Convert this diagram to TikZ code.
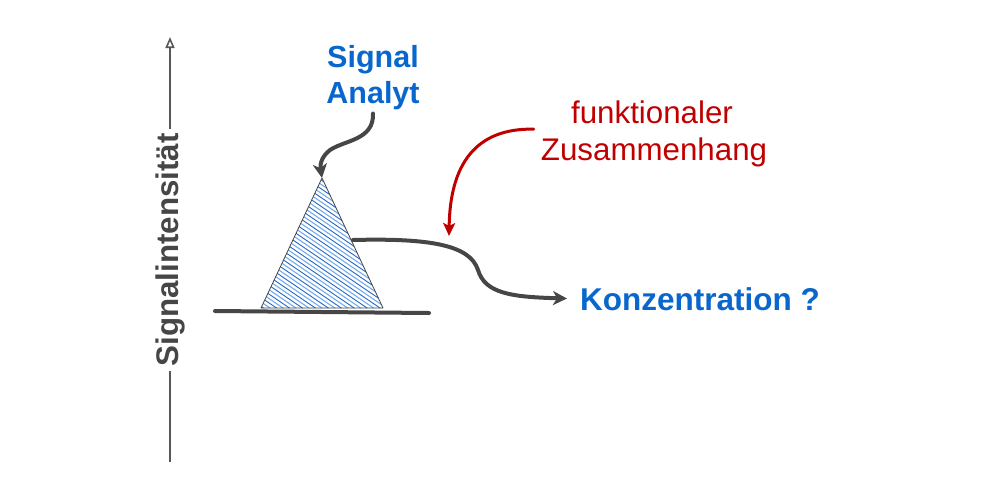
\documentclass[tikz,border=0pt]{standalone}
\usepackage{fontspec}
\setmainfont{Liberation Sans}
\usetikzlibrary{arrows.meta}
\definecolor{txtblue}{RGB}{8,102,204}
\definecolor{txtred}{RGB}{192,0,0}
\definecolor{dgray}{RGB}{70,70,70}
\definecolor{hatchA}{RGB}{30,105,205}
\definecolor{hatchB}{RGB}{120,170,230}
\tikzset{
  bluelbl/.style={text=txtblue, font=\fontsize{30.5}{36}\selectfont\bfseries, inner sep=3pt},
  redlbl/.style={text=txtred, font=\fontsize{31.3}{36}\selectfont, inner sep=3pt},
  grayarrow/.style={draw=dgray, line width=4pt, line cap=round, -{Stealth[length=14pt,width=14pt,inset=4pt]}},
  redarrow/.style={draw=txtred, line width=3pt, line cap=round, -{Stealth[length=13pt,width=12pt,inset=3pt]}},
}
\begin{document}
\begin{tikzpicture}[x=1pt,y=-1pt]
\useasboundingbox (0,0) rectangle (1000,501);
% vertical axis
\coordinate (axbot) at (170,462);
\coordinate (axtop) at (170,37);
\draw[dgray!90, line width=1.6pt, -{Triangle[open,length=11pt,width=9pt]}] (axbot) -- (axtop);
\node[rotate=90, fill=white, inner sep=4pt, text=dgray, font=\fontsize{31.3}{36}\selectfont\bfseries] (axlbl) at (170,250) {Signalintensität};
% triangle peak (hatched)
\coordinate (apex) at (322,178);
\coordinate (bl) at (261,308);
\coordinate (br) at (383,308);
\begin{scope}
  \clip (apex) -- (bl) -- (br) -- cycle;
  \foreach \c [count=\k] in {-56,-51.6,...,132} {
    \ifodd\k
      \draw[hatchA, line width=0.9pt] (240,{\c+0.68*240}) -- (400,{\c+0.68*400});
    \else
      \draw[hatchB, line width=1.1pt] (240,{\c+0.68*240}) -- (400,{\c+0.68*400});
    \fi
  }
\end{scope}
\draw[dgray, line width=0.8pt, line join=round] (apex) -- (bl) -- (br) -- cycle;
% baseline
\coordinate (b0) at (215,311);
\coordinate (b1) at (429,313);
\draw[dgray, line width=4pt, line cap=round] (b0) -- (b1);
% labels
\node[bluelbl, anchor=base] (signal) at (373,67) {Signal};
\node[bluelbl, anchor=base] (analyt) at (373,103) {Analyt};
\node[redlbl, anchor=base] (funk) at (652,123) {funktionaler};
\node[redlbl, anchor=base] (zus) at (654,160) {Zusammenhang};
\node[bluelbl, font=\fontsize{31.5}{36}\selectfont\bfseries, anchor=base west] (konz) at (577,310) {Konzentration ?};
% arrows
\draw[grayarrow] ([yshift=-1pt]analyt.south) .. controls (374,140) and (345,140) .. (330,150)
   .. controls (321,157) and (320,165) .. (apex);
\coordinate (rtip) at (449,236);
\draw[redarrow] ([xshift=-4pt,yshift=5pt]zus.north west) .. controls (475,128) and (450,165) .. (rtip);
\coordinate (tstart) at (353,240);
\draw[grayarrow, shorten >=10pt] (tstart) .. controls (430,238) and (470,245) .. (478,270)
   .. controls (485,293) and (510,297) .. (konz.west);
\end{tikzpicture}
\end{document}
